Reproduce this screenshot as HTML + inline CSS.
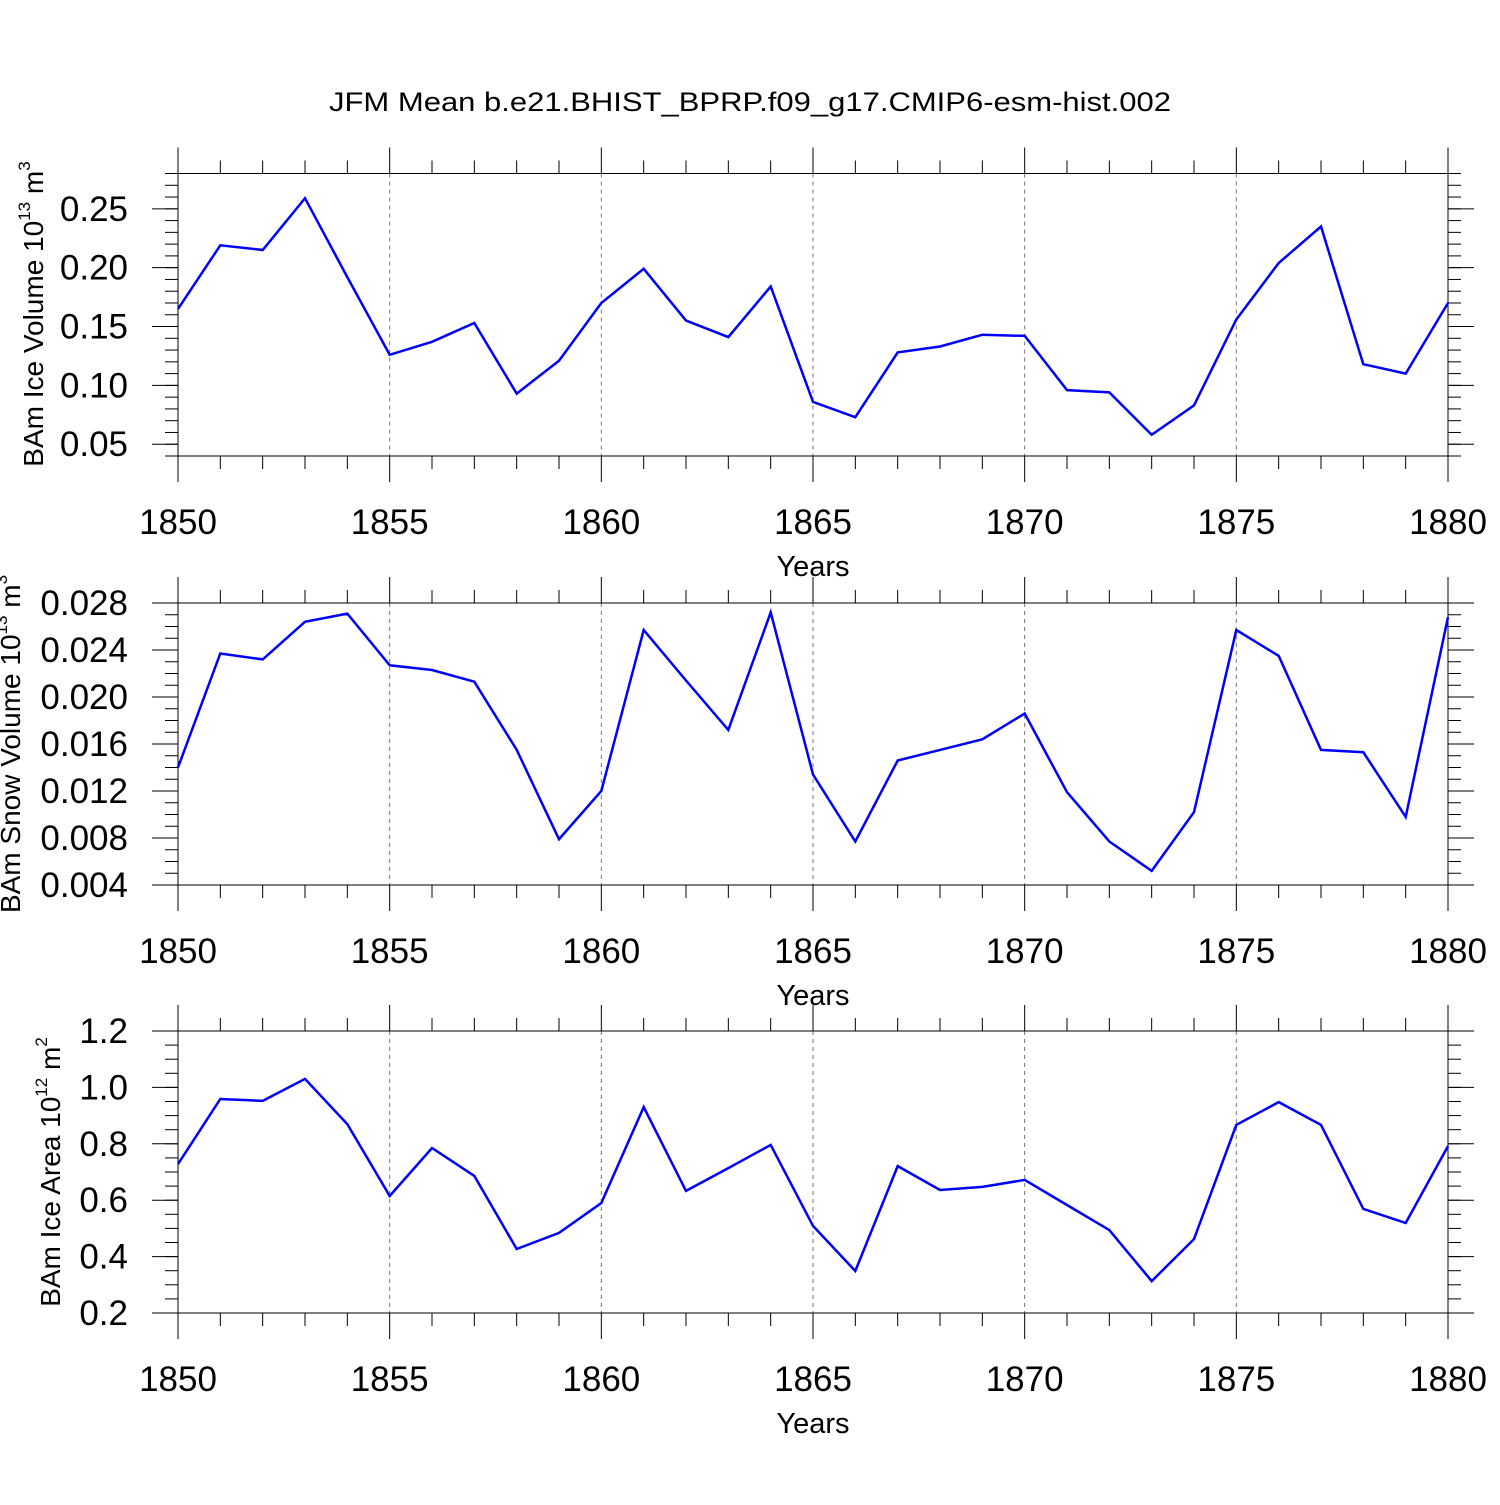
<!DOCTYPE html>
<html><head><meta charset="utf-8"><style>
body{margin:0;background:#fff}
text{font-family:"Liberation Sans",sans-serif;fill:#000}
</style></head><body>
<svg id="c" width="1500" height="1500" xmlns="http://www.w3.org/2000/svg">
<text x="750" y="111" text-anchor="middle" font-size="27" textLength="842" lengthAdjust="spacingAndGlyphs">JFM Mean b.e21.BHIST_BPRP.f09_g17.CMIP6-esm-hist.002</text>
</svg>
<script>
const years = [1850,1851,1852,1853,1854,1855,1856,1857,1858,1859,1860,1861,1862,1863,1864,1865,1866,1867,1868,1869,1870,1871,1872,1873,1874,1875,1876,1877,1878,1879,1880];
const iceVolume = [0.165,0.219,0.215,0.259,0.192,0.126,0.137,0.153,0.093,0.121,0.170,0.199,0.155,0.141,0.184,0.086,0.073,0.128,0.133,0.143,0.142,0.096,0.094,0.058,0.083,0.156,0.204,0.235,0.118,0.110,0.170];
const snowVolume = [0.0140,0.0237,0.0232,0.0264,0.0271,0.0227,0.0223,0.0213,0.0155,0.0079,0.0120,0.0257,0.0214,0.0172,0.0272,0.0134,0.0077,0.0146,0.0155,0.0164,0.0186,0.0119,0.0077,0.0052,0.0102,0.0257,0.0235,0.0155,0.0153,0.0098,0.0268];
const iceArea = [0.728,0.959,0.952,1.03,0.870,0.615,0.785,0.686,0.427,0.484,0.590,0.930,0.633,0.714,0.796,0.509,0.349,0.721,0.636,0.647,0.672,0.583,0.494,0.313,0.462,0.867,0.948,0.867,0.569,0.519,0.792];
const xTicks = [1850,1855,1860,1865,1870,1875,1880];
const ticks1 = ["0.05","0.10","0.15","0.20","0.25"];
const ticks2 = ["0.004","0.008","0.012","0.016","0.020","0.024","0.028"];
const ticks3 = ["0.2","0.4","0.6","0.8","1.0","1.2"];

const svg = document.getElementById('c');
const NS = 'http://www.w3.org/2000/svg';
function mk(tag, attrs, parent){const e=document.createElementNS(NS,tag);for(const k in attrs)e.setAttribute(k,attrs[k]);(parent||svg).appendChild(e);return e;}
const X0=178,X1=1448;
const xs = y => X0+(y-1850)/30*(X1-X0);

function panel(name, top, bot, ymin, ymax, yticks, minorStep, data, titleParts, titleY){
  const g = mk('g',{});
  
  
  const ys = v => bot-(v-ymin)/(ymax-ymin)*(bot-top);
  xTicks.slice(1,-1).forEach(t=>{
    const l=mk('line',{x1:xs(t),x2:xs(t),y1:top,y2:bot,stroke:'#777','stroke-width':1,'stroke-dasharray':'4,4'},g);
    
    
  });
  const fr=mk('rect',{x:X0,y:top,width:X1-X0,height:bot-top,fill:'none',stroke:'#000','stroke-width':1},g);
  
  
  for(let y=1850;y<=1880;y++){
    const maj=(y%5===0), L=maj?26:13;
    mk('line',{x1:xs(y),x2:xs(y),y1:top,y2:top-L,stroke:'#000','stroke-width':1},g);
    mk('line',{x1:xs(y),x2:xs(y),y1:bot,y2:bot+L,stroke:'#000','stroke-width':1},g);
  }
  xTicks.forEach(t=>{
    const tx=mk('text',{x:xs(t),y:bot+78,'text-anchor':'middle','font-size':35},g);
    tx.textContent=t;
    
    
  });
  const xt=mk('text',{x:813,y:bot+120,'text-anchor':'middle','font-size':29},g);
  xt.textContent='Years';
  
  
  for(let v=ymin; v<=ymax+1e-9; v+=minorStep){
    const y=ys(v); if(y<top-0.5||y>bot+0.5) continue;
    mk('line',{x1:X0,x2:X0-13,y1:y,y2:y,stroke:'#000','stroke-width':1},g);
    mk('line',{x1:X1,x2:X1+13,y1:y,y2:y,stroke:'#000','stroke-width':1},g);
  }
  yticks.forEach(s=>{
    const y=ys(parseFloat(s));
    mk('line',{x1:X0,x2:X0-26,y1:y,y2:y,stroke:'#000','stroke-width':1},g);
    mk('line',{x1:X1,x2:X1+26,y1:y,y2:y,stroke:'#000','stroke-width':1},g);
    const tx=mk('text',{x:128,y:y+12,'text-anchor':'end','font-size':35},g);
    tx.textContent=s;
    
    
  });
  const yt=mk('text',{transform:`translate(${titleParts[3]},${titleY}) rotate(-90)`,'text-anchor':'middle','font-size':28},g);
  
  
  const t1=mk('tspan',{},yt); t1.textContent=titleParts[0]+' 10';
  const t2=mk('tspan',{'font-size':17,dy:-13}); yt.appendChild(t2); t2.textContent=titleParts[1];
  const t3=mk('tspan',{dy:13}); yt.appendChild(t3); t3.textContent=' m';
  const t4=mk('tspan',{'font-size':17,dy:-13}); yt.appendChild(t4); t4.textContent=titleParts[2];
  const pts=data.map((v,i)=>xs(years[i]).toFixed(1)+','+ys(v).toFixed(1)).join(' ');
  const pl=mk('polyline',{points:pts,fill:'none',stroke:'#0000ff','stroke-width':2.5,'stroke-linejoin':'miter'},g);
  
  
}
panel('ice-volume',173.5,456,0.04,0.28,ticks1,0.01,iceVolume,['BAm Ice Volume','13','3',43],314);
panel('snow-volume',603,885,0.004,0.028,ticks2,0.001,snowVolume,['BAm Snow Volume','13','3',20],744);
panel('ice-area',1031,1313,0.2,1.2,ticks3,0.05,iceArea,['BAm Ice Area','12','2',60],1172);
</script>
</body></html>
